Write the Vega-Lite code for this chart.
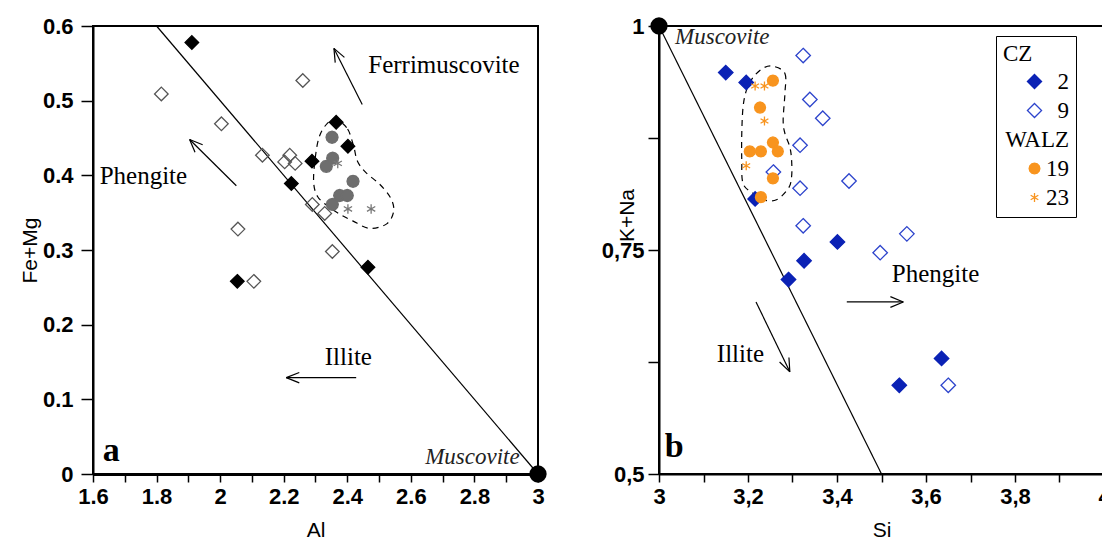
{
  "$schema": "https://vega.github.io/schema/vega-lite/v6.json",
  "background": "white",
  "padding": {"left": 18, "top": 14, "right": 0, "bottom": 0},
  "spacing": 52,
  "config": {
    "view": {"stroke": "black", "strokeWidth": 2},
    "axis": {
      "grid": false, "domainColor": "black", "domainWidth": 2, "tickColor": "black", "tickWidth": 1.5,
      "labelFont": "Liberation Sans", "labelFontWeight": "bold", "labelFontSize": 22, "labelColor": "black",
      "labelFlush": false, "labelOverlap": false,
      "titleFont": "Liberation Sans", "titleFontWeight": "normal", "titleFontSize": 21, "titleColor": "black"
    }
  },
  "datasets": {
    "ptsA": [
      {"x": 2.352, "y": 0.451, "g": "19"}, {"x": 2.354, "y": 0.423, "g": "19"}, {"x": 2.334, "y": 0.412, "g": "19"},
      {"x": 2.418, "y": 0.392, "g": "19"}, {"x": 2.376, "y": 0.373, "g": "19"}, {"x": 2.400, "y": 0.373, "g": "19"},
      {"x": 2.353, "y": 0.361, "g": "19"},
      {"x": 2.402, "y": 0.355, "g": "23"}, {"x": 2.475, "y": 0.355, "g": "23"}, {"x": 2.370, "y": 0.416, "g": "23"},
      {"x": 1.815, "y": 0.509, "g": "9"}, {"x": 2.260, "y": 0.527, "g": "9"}, {"x": 2.004, "y": 0.469, "g": "9"},
      {"x": 2.133, "y": 0.427, "g": "9"}, {"x": 2.219, "y": 0.427, "g": "9"}, {"x": 2.203, "y": 0.418, "g": "9"},
      {"x": 2.236, "y": 0.416, "g": "9"}, {"x": 2.290, "y": 0.361, "g": "9"}, {"x": 2.329, "y": 0.349, "g": "9"},
      {"x": 2.056, "y": 0.328, "g": "9"}, {"x": 2.353, "y": 0.298, "g": "9"}, {"x": 2.106, "y": 0.258, "g": "9"},
      {"x": 1.911, "y": 0.578, "g": "2"}, {"x": 2.365, "y": 0.471, "g": "2"}, {"x": 2.402, "y": 0.439, "g": "2"},
      {"x": 2.289, "y": 0.419, "g": "2"}, {"x": 2.224, "y": 0.389, "g": "2"}, {"x": 2.465, "y": 0.277, "g": "2"},
      {"x": 2.054, "y": 0.258, "g": "2"}
    ],
    "ptsB": [
      {"x": 3.150, "y": 0.948, "g": "2"}, {"x": 3.196, "y": 0.937, "g": "2"}, {"x": 3.216, "y": 0.807, "g": "2"},
      {"x": 3.401, "y": 0.759, "g": "2"}, {"x": 3.326, "y": 0.738, "g": "2"}, {"x": 3.291, "y": 0.717, "g": "2"},
      {"x": 3.635, "y": 0.629, "g": "2"}, {"x": 3.540, "y": 0.599, "g": "2"},
      {"x": 3.324, "y": 0.967, "g": "9"}, {"x": 3.339, "y": 0.918, "g": "9"}, {"x": 3.368, "y": 0.897, "g": "9"},
      {"x": 3.317, "y": 0.867, "g": "9"}, {"x": 3.257, "y": 0.837, "g": "9"}, {"x": 3.427, "y": 0.827, "g": "9"},
      {"x": 3.317, "y": 0.819, "g": "9"}, {"x": 3.324, "y": 0.777, "g": "9"}, {"x": 3.557, "y": 0.768, "g": "9"},
      {"x": 3.497, "y": 0.747, "g": "9"}, {"x": 3.650, "y": 0.599, "g": "9"},
      {"x": 3.256, "y": 0.939, "g": "19"}, {"x": 3.227, "y": 0.909, "g": "19"}, {"x": 3.256, "y": 0.870, "g": "19"},
      {"x": 3.267, "y": 0.860, "g": "19"}, {"x": 3.204, "y": 0.860, "g": "19"}, {"x": 3.229, "y": 0.860, "g": "19"},
      {"x": 3.256, "y": 0.830, "g": "19"}, {"x": 3.229, "y": 0.809, "g": "19"},
      {"x": 3.216, "y": 0.933, "g": "23"}, {"x": 3.237, "y": 0.933, "g": "23"}, {"x": 3.237, "y": 0.894, "g": "23"},
      {"x": 3.196, "y": 0.844, "g": "23"}
    ],
    "segA": [
      {"x": 1.8, "y": 0.6, "x2": 3, "y2": 0},
      {"x": 2.447, "y": 0.495, "x2": 2.358, "y2": 0.570},
      {"x": 2.358, "y": 0.570, "x2": 2.362, "y2": 0.551},
      {"x": 2.358, "y": 0.570, "x2": 2.391, "y2": 0.558},
      {"x": 2.051, "y": 0.386, "x2": 1.904, "y2": 0.448},
      {"x": 1.904, "y": 0.448, "x2": 1.921, "y2": 0.431},
      {"x": 1.904, "y": 0.448, "x2": 1.945, "y2": 0.441},
      {"x": 2.428, "y": 0.129, "x2": 2.208, "y2": 0.129},
      {"x": 2.208, "y": 0.129, "x2": 2.249, "y2": 0.136},
      {"x": 2.208, "y": 0.129, "x2": 2.249, "y2": 0.122}
    ],
    "segB": [
      {"x": 3, "y": 1, "x2": 3.5, "y2": 0.5},
      {"x": 3.422, "y": 0.692, "x2": 3.549, "y2": 0.692},
      {"x": 3.549, "y": 0.692, "x2": 3.520, "y2": 0.698},
      {"x": 3.549, "y": 0.692, "x2": 3.520, "y2": 0.686},
      {"x": 3.218, "y": 0.692, "x2": 3.294, "y2": 0.614},
      {"x": 3.294, "y": 0.614, "x2": 3.292, "y2": 0.630},
      {"x": 3.294, "y": 0.614, "x2": 3.271, "y2": 0.625}
    ],
    "loopA": [
      {"i": 1, "x": 2.365, "y": 0.475}, {"i": 2, "x": 2.401, "y": 0.462}, {"i": 3, "x": 2.420, "y": 0.439},
      {"i": 4, "x": 2.432, "y": 0.419}, {"i": 5, "x": 2.458, "y": 0.404}, {"i": 6, "x": 2.502, "y": 0.388},
      {"i": 7, "x": 2.536, "y": 0.370}, {"i": 8, "x": 2.546, "y": 0.352}, {"i": 9, "x": 2.524, "y": 0.335},
      {"i": 10, "x": 2.470, "y": 0.329}, {"i": 11, "x": 2.417, "y": 0.339}, {"i": 12, "x": 2.376, "y": 0.348},
      {"i": 13, "x": 2.338, "y": 0.359}, {"i": 14, "x": 2.306, "y": 0.372}, {"i": 15, "x": 2.294, "y": 0.392},
      {"i": 16, "x": 2.300, "y": 0.426}, {"i": 17, "x": 2.313, "y": 0.453}, {"i": 18, "x": 2.338, "y": 0.470}
    ],
    "loopB": [
      {"i": 1, "x": 3.257, "y": 0.955}, {"i": 2, "x": 3.283, "y": 0.947}, {"i": 3, "x": 3.283, "y": 0.925},
      {"i": 4, "x": 3.279, "y": 0.895}, {"i": 5, "x": 3.283, "y": 0.880}, {"i": 6, "x": 3.294, "y": 0.865},
      {"i": 7, "x": 3.298, "y": 0.850}, {"i": 8, "x": 3.298, "y": 0.832}, {"i": 9, "x": 3.291, "y": 0.819},
      {"i": 10, "x": 3.264, "y": 0.806}, {"i": 11, "x": 3.234, "y": 0.806}, {"i": 12, "x": 3.212, "y": 0.813},
      {"i": 13, "x": 3.189, "y": 0.824}, {"i": 14, "x": 3.186, "y": 0.850}, {"i": 15, "x": 3.186, "y": 0.880},
      {"i": 16, "x": 3.189, "y": 0.910}, {"i": 17, "x": 3.197, "y": 0.929}, {"i": 18, "x": 3.212, "y": 0.943},
      {"i": 19, "x": 3.234, "y": 0.953}
    ],
    "musA": [{"x": 3, "y": 0}],
    "musB": [{"x": 3, "y": 1}],
    "txtA": [
      {"x": 2.466, "y": 0.5375, "label": "Ferrimuscovite", "k": "ann"},
      {"x": 1.621, "y": 0.388, "label": "Phengite", "k": "ann"},
      {"x": 2.329, "y": 0.1466, "label": "Illite", "k": "ann"},
      {"x": 1.631, "y": 0.018, "label": "a", "k": "panel"},
      {"x": 2.645, "y": 0.0134, "label": "Muscovite", "k": "mus"}
    ],
    "txtB": [
      {"x": 3.523, "y": 0.714, "label": "Phengite", "k": "ann"},
      {"x": 3.130, "y": 0.625, "label": "Illite", "k": "ann"},
      {"x": 3.013, "y": 0.519, "label": "b", "k": "panel"},
      {"x": 3.036, "y": 0.980, "label": "Muscovite", "k": "mus"}
    ]
  },
  "resolve": {
    "scale": {"shape": "independent", "fill": "independent", "stroke": "independent"},
    "legend": {"shape": "independent", "fill": "independent", "stroke": "independent"}
  },
  "hconcat": [
    {
      "width": 445,
      "height": 448,
      "encoding": {
        "x": {
          "field": "x", "type": "quantitative",
          "scale": {"domain": [1.6, 3], "nice": false, "zero": false},
          "axis": {
            "title": "Al",
            "values": [1.6, 1.7, 1.8, 1.9, 2, 2.1, 2.2, 2.3, 2.4, 2.5, 2.6, 2.7, 2.8, 2.9, 3],
            "labelExpr": "round(datum.value*10)%2==0 ? format(datum.value,'') : ''",
            "tickSize": 8, "labelPadding": 4, "domainWidth": 3, "titlePadding": 12
          }
        },
        "y": {
          "field": "y", "type": "quantitative",
          "scale": {"domain": [0, 0.6], "nice": false, "zero": false},
          "axis": {
            "title": "Fe+Mg",
            "values": [0, 0.1, 0.2, 0.3, 0.4, 0.5, 0.6],
            "labelExpr": "format(datum.value,'')",
            "tickSize": 12, "labelPadding": 8, "titlePadding": 2
          }
        }
      },
      "layer": [
        {
          "data": {"name": "segA"},
          "mark": {"type": "rule", "color": "black", "strokeWidth": 1.2},
          "encoding": {"x2": {"field": "x2"}, "y2": {"field": "y2"}}
        },
        {
          "data": {"name": "loopA"},
          "mark": {"type": "line", "color": "black", "strokeWidth": 1.2, "strokeDash": [6, 5], "interpolate": "cardinal-closed"},
          "encoding": {"order": {"field": "i", "type": "quantitative"}}
        },
        {
          "data": {"name": "ptsA"},
          "mark": {"type": "point", "size": 185, "strokeWidth": 1.3, "opacity": 1},
          "encoding": {
            "shape": {
              "field": "g", "type": "nominal", "legend": null,
              "scale": {
                "domain": ["2", "9", "19", "23"],
                "range": [
                  "M0,-1L1,0L0,1L-1,0Z",
                  "M0,-1L1,0L0,1L-1,0Z",
                  "M0.88,0L0.762,0.44L0.44,0.762L0,0.88L-0.44,0.762L-0.762,0.44L-0.88,0L-0.762,-0.44L-0.44,-0.762L0,-0.88L0.44,-0.762L0.762,-0.44Z",
                  "M0,-0.7L0,0.7M-0.61,-0.35L0.61,0.35M-0.61,0.35L0.61,-0.35"
                ]
              }
            },
            "fill": {
              "field": "g", "type": "nominal", "legend": null,
              "scale": {"domain": ["2", "9", "19", "23"], "range": ["#000000", "transparent", "#6e6e6e", "transparent"]}
            },
            "stroke": {
              "field": "g", "type": "nominal", "legend": null,
              "scale": {"domain": ["2", "9", "19", "23"], "range": ["#000000", "#555555", "#6e6e6e", "#777777"]}
            }
          }
        },
        {
          "data": {"name": "musA"},
          "mark": {"type": "point", "shape": "circle", "filled": true, "color": "black", "size": 300, "opacity": 1}
        },
        {
          "data": {"name": "txtA"},
          "transform": [{"filter": "datum.k == 'ann'"}],
          "mark": {"type": "text", "font": "Liberation Serif", "fontSize": 25, "align": "left", "baseline": "alphabetic", "color": "black"},
          "encoding": {"text": {"field": "label"}}
        },
        {
          "data": {"name": "txtA"},
          "transform": [{"filter": "datum.k == 'panel'"}],
          "mark": {"type": "text", "font": "Liberation Serif", "fontSize": 34, "fontWeight": "bold", "align": "left", "baseline": "alphabetic", "color": "black"},
          "encoding": {"text": {"field": "label"}}
        },
        {
          "data": {"name": "txtA"},
          "transform": [{"filter": "datum.k == 'mus'"}],
          "mark": {"type": "text", "font": "Liberation Serif", "fontSize": 23, "fontStyle": "italic", "align": "left", "baseline": "alphabetic", "color": "#222222"},
          "encoding": {"text": {"field": "label"}}
        }
      ]
    },
    {
      "width": 445,
      "height": 448,
      "encoding": {
        "x": {
          "field": "x", "type": "quantitative",
          "scale": {"domain": [3, 4], "nice": false, "zero": false},
          "axis": {
            "title": "Si",
            "values": [3, 3.1, 3.2, 3.3, 3.4, 3.5, 3.6, 3.7, 3.8, 3.9, 4],
            "labelExpr": "round(datum.value*10)%2==0 ? replace(format(datum.value,''), '.', ',') : ''",
            "tickSize": 8, "labelPadding": 4, "titlePadding": 12
          }
        },
        "y": {
          "field": "y", "type": "quantitative",
          "scale": {"domain": [0.5, 1], "nice": false, "zero": false},
          "axis": {
            "title": "K+Na",
            "values": [0.5, 0.625, 0.75, 0.875, 1],
            "labelExpr": "round(datum.value*8)%2==0 ? replace(format(datum.value,''), '.', ',') : ''",
            "tickSize": 11, "labelPadding": 4,
            "titleX": -32, "titleY": 189, "titleAngle": -90, "titleBaseline": "middle", "titleAlign": "center"
          }
        }
      },
      "layer": [
        {
          "data": {"name": "segB"},
          "mark": {"type": "rule", "color": "black", "strokeWidth": 1.2},
          "encoding": {"x2": {"field": "x2"}, "y2": {"field": "y2"}}
        },
        {
          "data": {"name": "loopB"},
          "mark": {"type": "line", "color": "black", "strokeWidth": 1.2, "strokeDash": [6, 5], "interpolate": "cardinal-closed"},
          "encoding": {"order": {"field": "i", "type": "quantitative"}}
        },
        {
          "data": {"name": "ptsB"},
          "mark": {"type": "point", "size": 210, "strokeWidth": 1.3, "opacity": 1},
          "encoding": {
            "shape": {
              "field": "g", "type": "nominal",
              "scale": {
                "domain": ["2", "9", "WALZ", "19", "23"],
                "range": [
                  "M0,-1L1,0L0,1L-1,0Z",
                  "M0,-1L1,0L0,1L-1,0Z",
                  "M0,0L0,0",
                  "M0.76,0L0.658,0.38L0.38,0.658L0,0.76L-0.38,0.658L-0.658,0.38L-0.76,0L-0.658,-0.38L-0.38,-0.658L0,-0.76L0.38,-0.658L0.658,-0.38Z",
                  "M0,-0.62L0,0.62M-0.54,-0.31L0.54,0.31M-0.54,0.31L0.54,-0.31"
                ]
              },
              "legend": {
                "title": "CZ", "orient": "none", "legendX": 337, "legendY": 10, "direction": "vertical",
                "strokeColor": "black", "padding": 7,
                "titleFont": "Liberation Serif", "titleFontSize": 23, "titleFontWeight": "normal", "titleColor": "black", "titlePadding": 4,
                "labelFont": "Liberation Serif", "labelFontSize": 23, "labelColor": "black", "labelAlign": "right",
                "labelOffset": 23, "symbolOffset": 20, "symbolSize": 200, "symbolStrokeWidth": 1.3, "rowPadding": 5,
                "labelExpr": "datum.label + '\u00a0\u00a0\u00a0'"
              }
            },
            "fill": {
              "field": "g", "type": "nominal",
              "scale": {"domain": ["2", "9", "WALZ", "19", "23"], "range": ["#0b22b5", "transparent", "transparent", "#f8941e", "transparent"]},
              "legend": {
                "title": "CZ", "orient": "none", "legendX": 337, "legendY": 10, "direction": "vertical",
                "strokeColor": "black", "padding": 7,
                "titleFont": "Liberation Serif", "titleFontSize": 23, "titleFontWeight": "normal", "titleColor": "black", "titlePadding": 4,
                "labelFont": "Liberation Serif", "labelFontSize": 23, "labelColor": "black", "labelAlign": "right",
                "labelOffset": 23, "symbolOffset": 20, "symbolSize": 200, "symbolStrokeWidth": 1.3, "rowPadding": 5,
                "labelExpr": "datum.label + '\u00a0\u00a0\u00a0'"
              }
            },
            "stroke": {
              "field": "g", "type": "nominal",
              "scale": {"domain": ["2", "9", "WALZ", "19", "23"], "range": ["#0b22b5", "#2d44cc", "transparent", "#f8941e", "#f8941e"]},
              "legend": {
                "title": "CZ", "orient": "none", "legendX": 337, "legendY": 10, "direction": "vertical",
                "strokeColor": "black", "padding": 7,
                "titleFont": "Liberation Serif", "titleFontSize": 23, "titleFontWeight": "normal", "titleColor": "black", "titlePadding": 4,
                "labelFont": "Liberation Serif", "labelFontSize": 23, "labelColor": "black", "labelAlign": "right",
                "labelOffset": 23, "symbolOffset": 20, "symbolSize": 200, "symbolStrokeWidth": 1.3, "rowPadding": 5,
                "labelExpr": "datum.label + '\u00a0\u00a0\u00a0'"
              }
            }
          }
        },
        {
          "data": {"name": "musB"},
          "mark": {"type": "point", "shape": "circle", "filled": true, "color": "black", "size": 300, "opacity": 1}
        },
        {
          "data": {"name": "txtB"},
          "transform": [{"filter": "datum.k == 'ann'"}],
          "mark": {"type": "text", "font": "Liberation Serif", "fontSize": 25, "align": "left", "baseline": "alphabetic", "color": "black"},
          "encoding": {"text": {"field": "label"}}
        },
        {
          "data": {"name": "txtB"},
          "transform": [{"filter": "datum.k == 'panel'"}],
          "mark": {"type": "text", "font": "Liberation Serif", "fontSize": 34, "fontWeight": "bold", "align": "left", "baseline": "alphabetic", "color": "black"},
          "encoding": {"text": {"field": "label"}}
        },
        {
          "data": {"name": "txtB"},
          "transform": [{"filter": "datum.k == 'mus'"}],
          "mark": {"type": "text", "font": "Liberation Serif", "fontSize": 23, "fontStyle": "italic", "align": "left", "baseline": "alphabetic", "color": "#222222"},
          "encoding": {"text": {"field": "label"}}
        }
      ]
    }
  ]
}
